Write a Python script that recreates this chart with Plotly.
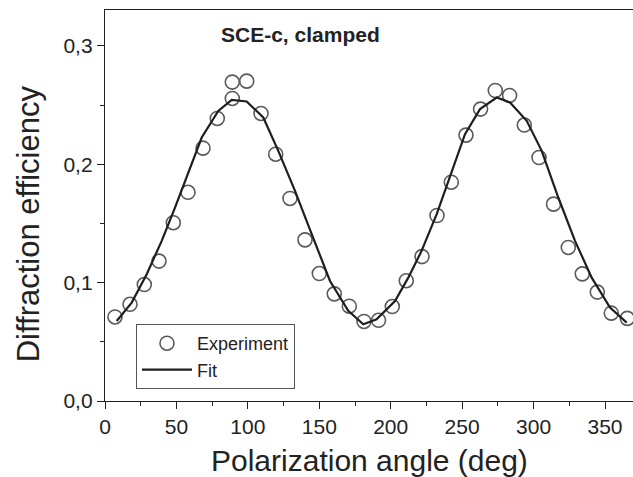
import plotly.graph_objects as go

exp_angle = [7.0, 17.5, 27.5, 37.8, 47.8, 58.1, 68.6, 78.6, 89.1, 89.1, 99.2, 109.2,
             119.5, 129.5, 140.0, 150.0, 160.5, 171.0, 181.3, 191.5, 201.1, 210.9,
             221.9, 232.4, 242.4, 252.7, 262.9, 273.2, 283.2, 293.5, 303.8, 314.0,
             324.3, 334.1, 344.6, 354.4, 365.6]
exp_eff = [0.0710, 0.0817, 0.0984, 0.1182, 0.1506, 0.1763, 0.2136, 0.2387, 0.2556,
           0.2694, 0.2702, 0.2429, 0.2085, 0.1711, 0.1361, 0.1077, 0.0905, 0.0801,
           0.0672, 0.0682, 0.0798, 0.1016, 0.1220, 0.1567, 0.1848, 0.2246, 0.2466,
           0.2623, 0.2581, 0.2331, 0.2057, 0.1663, 0.1297, 0.1074, 0.0920, 0.0742,
           0.0698]

# Fit curve
fit_angle = [8.2, 18.7, 29.2, 39.7, 49.0, 57.2, 67.7, 79.3, 88.7, 99.2, 110.8, 121.3,
             133.0, 144.7, 157.5, 170.3, 180.8, 190.1, 203.0, 212.3, 221.6, 232.2,
             241.5, 252.0, 262.5, 274.2, 283.5, 295.2, 305.7, 317.3, 329.0, 340.7,
             353.5, 365.2]
fit_eff = [0.0676, 0.0831, 0.1071, 0.1353, 0.1634, 0.1888, 0.2226, 0.2450, 0.2543,
           0.2530, 0.2395, 0.2113, 0.1775, 0.1410, 0.1014, 0.0761, 0.0648, 0.0690,
           0.0845, 0.1042, 0.1268, 0.1578, 0.1888, 0.2254, 0.2466, 0.2564, 0.2522,
           0.2367, 0.2113, 0.1719, 0.1353, 0.1042, 0.0789, 0.0662]

x_ticks = [0, 50, 100, 150, 200, 250, 300, 350]
y_ticks = [0.0, 0.1, 0.2, 0.3]

FONT = "Liberation Sans, Arial, sans-serif"
INK = "#222222"

fig = go.Figure()
fig.add_trace(go.Scatter(
    x=exp_angle, y=exp_eff, mode="markers", name="Experiment",
    marker=dict(symbol="circle-open", size=14, color="#5a5a5a",
                line=dict(width=1.6, color="#5a5a5a")),
))
fig.add_trace(go.Scatter(
    x=fit_angle, y=fit_eff, mode="lines", name="Fit",
    line=dict(color="#1e1e1e", width=2.2),
))

axis_common = dict(
    showgrid=False, zeroline=False, showline=True, linecolor=INK, linewidth=1.4,
    ticks="outside", ticklen=7, tickwidth=1.4, tickcolor=INK,
    tickfont=dict(family=FONT, size=21, color=INK),
)

fig.update_xaxes(
    range=[0, 369.6], tickvals=x_ticks, mirror=True,
    minor=dict(dtick=25, tick0=0, ticks="outside", ticklen=4, tickwidth=1.2, tickcolor=INK),
    **axis_common,
)
fig.update_yaxes(
    range=[0, 0.3303], tickvals=y_ticks, tickformat=".1f",
    minor=dict(dtick=0.05, tick0=0, ticks="outside", ticklen=4, tickwidth=1.2, tickcolor=INK),
    **axis_common,
)

fig.add_annotation(text="Polarization angle (deg)", xref="paper", yref="paper",
                   x=0.5, y=0, yshift=-59, xanchor="center", yanchor="middle",
                   showarrow=False, font=dict(family=FONT, size=30, color=INK))
fig.add_annotation(text="Diffraction efficiency", xref="paper", yref="paper",
                   x=0, xshift=-77, y=0.452, xanchor="center", yanchor="middle",
                   textangle=-90, showarrow=False,
                   font=dict(family=FONT, size=31, color=INK))
fig.add_annotation(text="<b>SCE-c, clamped</b>", xref="paper", yref="paper",
                   x=0.371, y=0.9386, xanchor="center", yanchor="middle",
                   showarrow=False, font=dict(family=FONT, size=21, color=INK))

fig.update_layout(
    width=633, height=477,
    margin=dict(l=105, r=0, t=10, b=76),
    paper_bgcolor="white", plot_bgcolor="white",
    separators=",.",
    showlegend=True,
    legend=dict(x=0.0587, y=0.0307, xanchor="left", yanchor="bottom",
                bordercolor="#555555", borderwidth=1, bgcolor="white",
                font=dict(family=FONT, size=18, color=INK),
                itemwidth=50, tracegroupgap=0),
)

fig.write_html("out.html")
